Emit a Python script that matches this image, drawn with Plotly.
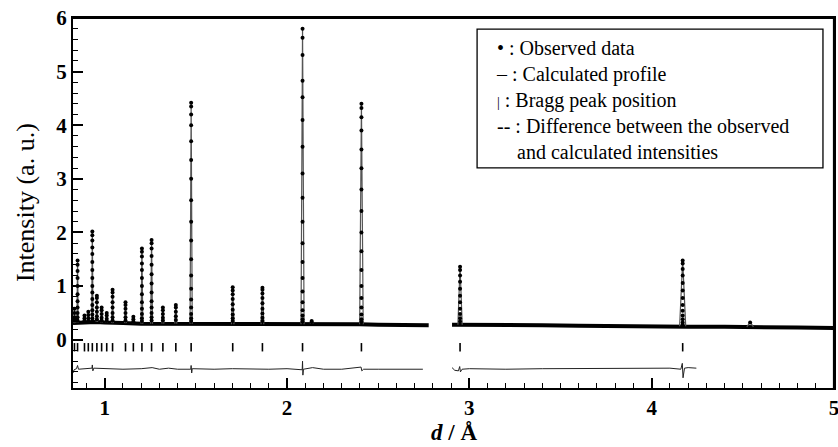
import plotly.graph_objects as go

# ---------------- data ----------------
# Bragg reflections (d-spacings, Å)
bragg_d = [0.834, 0.851, 0.889, 0.910, 0.932, 0.957, 0.983, 1.011, 1.043, 1.114,
           1.157, 1.204, 1.257, 1.319, 1.390, 1.474, 1.702, 1.865, 2.085, 2.408,
           2.949, 4.170]
bragg_level = -0.14

# peaks of the profile (d, top intensity, base intensity)
peak_d = [0.834, 0.851, 0.889, 0.910, 0.932, 0.957, 0.983, 1.011, 1.043, 1.114,
          1.157, 1.204, 1.257, 1.319, 1.390, 1.474, 1.702, 1.865, 2.085, 2.135,
          2.408, 2.949, 4.170, 4.540]
peak_h = [0.60, 1.48, 0.45, 0.52, 2.03, 0.82, 0.60, 0.50, 0.93, 0.70,
          0.43, 1.70, 1.86, 0.60, 0.65, 4.42, 0.98, 0.97, 5.82, 0.34,
          4.40, 1.36, 1.48, 0.33]
peak_base = [0.31, 0.32, 0.33, 0.33, 0.33, 0.33, 0.32, 0.32, 0.31, 0.31,
             0.31, 0.30, 0.30, 0.30, 0.30, 0.30, 0.29, 0.29, 0.29, 0.30,
             0.29, 0.28, 0.25, 0.24]

# observed points read along each peak (same order as peak_d)
peak_obs = [
    [0.58, 0.50, 0.42, 0.36],
    [1.48, 1.40, 1.28, 1.15, 1.00, 0.85, 0.72, 0.60, 0.50, 0.42, 0.36],
    [0.45, 0.40, 0.36],
    [0.52, 0.46, 0.40, 0.35],
    [2.02, 1.95, 1.85, 1.72, 1.60, 1.45, 1.30, 1.15, 1.00, 0.88, 0.76, 0.65, 0.55, 0.47, 0.40, 0.35],
    [0.82, 0.78, 0.70, 0.60, 0.52, 0.44, 0.38],
    [0.60, 0.55, 0.48, 0.41, 0.36],
    [0.50, 0.45, 0.39, 0.35],
    [0.93, 0.88, 0.80, 0.70, 0.60, 0.50, 0.42, 0.36],
    [0.70, 0.65, 0.58, 0.50, 0.42, 0.36],
    [0.43, 0.38, 0.34],
    [1.70, 1.64, 1.55, 1.42, 1.30, 1.15, 1.00, 0.85, 0.70, 0.58, 0.48, 0.40, 0.35],
    [1.86, 1.80, 1.70, 1.56, 1.40, 1.22, 1.05, 0.88, 0.72, 0.60, 0.50, 0.42, 0.36],
    [0.60, 0.55, 0.48, 0.41, 0.36],
    [0.65, 0.60, 0.52, 0.44, 0.37],
    [4.42, 4.35, 4.20, 4.00, 3.70, 3.35, 3.00, 2.60, 2.20, 1.85, 1.50, 1.20, 0.95, 0.75, 0.60, 0.48, 0.40, 0.35],
    [0.98, 0.92, 0.85, 0.76, 0.66, 0.56, 0.47, 0.40, 0.35],
    [0.97, 0.93, 0.86, 0.78, 0.68, 0.58, 0.49, 0.41, 0.35],
    [5.80, 5.63, 5.31, 4.83, 4.52, 4.10, 3.60, 3.10, 2.65, 2.20, 1.80, 1.45, 1.15, 0.90, 0.70, 0.55, 0.45, 0.38, 0.34],
    [0.35, 0.33],
    [4.40, 4.32, 4.15, 3.90, 3.55, 3.20, 2.80, 2.40, 2.00, 1.65, 1.30, 1.00, 0.78, 0.60, 0.47, 0.38, 0.33],
    [1.36, 1.30, 1.20, 1.08, 0.95, 0.82, 0.70, 0.58, 0.48, 0.40, 0.34],
    [1.48, 1.42, 1.32, 1.20, 1.06, 0.92, 0.78, 0.65, 0.54, 0.45, 0.38, 0.32, 0.28],
    [0.32],
]

# observed background (two measured ranges with a gap)
bg_left_d = [0.826, 0.86, 0.90, 0.95, 1.00, 1.05, 1.10, 1.20, 1.30, 1.40, 1.50, 1.60,
             1.70, 1.80, 1.90, 2.00, 2.10, 2.20, 2.30, 2.40, 2.50, 2.60, 2.70, 2.777]
bg_left_y = [0.31, 0.32, 0.33, 0.33, 0.32, 0.31, 0.31, 0.30, 0.30, 0.30, 0.30, 0.29,
             0.29, 0.29, 0.29, 0.29, 0.30, 0.29, 0.29, 0.29, 0.28, 0.28, 0.27, 0.27]
bg_right_d = [2.905, 3.00, 3.20, 3.40, 3.60, 3.80, 4.00, 4.20, 4.40, 4.60, 4.80, 5.00]
bg_right_y = [0.28, 0.28, 0.27, 0.27, 0.26, 0.25, 0.25, 0.24, 0.24, 0.24, 0.23, 0.22]

# difference curve (observed - calculated, offset)
diff_left_d = [0.826, 0.832, 0.845, 0.851, 0.856, 0.88, 0.93, 0.932, 0.935, 0.94, 1.00,
               1.10, 1.20, 1.26, 1.30, 1.35, 1.40, 1.472, 1.474, 1.477, 1.48, 1.60, 1.70,
               1.80, 1.90, 2.00, 2.083, 2.085, 2.087, 2.09, 2.14, 2.20, 2.30, 2.406,
               2.41, 2.42, 2.50, 2.60, 2.745]
diff_left_y = [-0.62, -0.56, -0.54, -0.48, -0.55, -0.54, -0.53, -0.47, -0.58, -0.53, -0.54,
               -0.55, -0.54, -0.52, -0.55, -0.53, -0.55, -0.55, -0.48, -0.62, -0.54, -0.55, -0.54,
               -0.55, -0.55, -0.54, -0.56, -0.40, -0.66, -0.55, -0.52, -0.55, -0.55, -0.51,
               -0.58, -0.55, -0.55, -0.55, -0.55]
diff_right_d = [2.905, 2.92, 2.94, 2.947, 2.951, 2.96, 3.00, 3.20, 3.40, 3.60, 3.80, 4.00,
                4.10, 4.16, 4.168, 4.172, 4.18, 4.20, 4.245]
diff_right_y = [-0.52, -0.57, -0.58, -0.50, -0.60, -0.55, -0.54, -0.55, -0.54, -0.54, -0.54, -0.54,
                -0.53, -0.55, -0.44, -0.71, -0.53, -0.52, -0.53]

x_ticks = [1, 2, 3, 4, 5]
y_ticks = [0, 1, 2, 3, 4, 5, 6]
x_range = [0.826, 5.0]
y_range = [-0.9, 6.0]

# ---------------- build traces ----------------
calc_x, calc_y = [], []
for d, h, b in zip(peak_d, peak_h, peak_base):
    hw = 0.004 * d
    calc_x += [d - hw, d, d + hw, None]
    calc_y += [b, h, b, None]

obs_x, obs_y = [], []
for d, ys in zip(peak_d, peak_obs):
    for v in ys:
        obs_x.append(d)
        obs_y.append(v)

fig = go.Figure()

# observed background band
fig.add_trace(go.Scatter(x=bg_left_d + [None] + bg_right_d,
                         y=bg_left_y + [None] + bg_right_y,
                         mode="lines", line=dict(color="black", width=4),
                         connectgaps=False, hoverinfo="skip"))
# calculated profile
fig.add_trace(go.Scatter(x=calc_x, y=calc_y, mode="lines",
                         line=dict(color="#555555", width=1.2), connectgaps=False))
# observed points
fig.add_trace(go.Scatter(x=obs_x, y=obs_y, mode="markers",
                         marker=dict(color="black", size=4, symbol="circle")))
# Bragg positions
fig.add_trace(go.Scatter(x=bragg_d, y=[bragg_level] * len(bragg_d), mode="markers",
                         marker=dict(symbol="line-ns", size=6,
                                     line=dict(color="black", width=1.6))))
# difference curve
fig.add_trace(go.Scatter(x=diff_left_d + [None] + diff_right_d,
                         y=diff_left_y + [None] + diff_right_y,
                         mode="lines", line=dict(color="#222222", width=1),
                         connectgaps=False))
# top and right edges of the plot frame, along the axis range limits
fig.add_trace(go.Scatter(x=[x_range[0], x_range[1], x_range[1]],
                         y=[y_range[1], y_range[1], y_range[0]],
                         mode="lines", line=dict(color="black", width=2.2),
                         cliponaxis=False, hoverinfo="skip"))

serif = "Liberation Serif, Times New Roman, serif"
fig.update_layout(
    width=838, height=447, autosize=False,
    margin=dict(l=73, r=4, t=18, b=59),
    paper_bgcolor="white", plot_bgcolor="white",
    showlegend=False,
    font=dict(family=serif, color="black"),
    xaxis=dict(range=x_range, showgrid=False, zeroline=False, automargin=False,
               showline=True, linecolor="black", linewidth=2, mirror=True,
               ticks="inside", ticklen=10, tickwidth=1.6, tickcolor="black",
               tickvals=x_ticks, ticktext=[f"<b>{v}</b>" for v in x_ticks],
               tickfont=dict(family=serif, size=21, color="black"),
               ticklabeloverflow="allow",
               minor=dict(dtick=0.1, ticks="inside", ticklen=5, tickwidth=1.4,
                          tickcolor="black", showgrid=False)),
    yaxis=dict(range=y_range, showgrid=False, zeroline=False, automargin=False,
               showline=True, linecolor="black", linewidth=2, mirror=True,
               ticks="inside", ticklen=10, tickwidth=1.6, tickcolor="black",
               tickvals=y_ticks, ticktext=[f"<b>{v}</b>" for v in y_ticks],
               tickfont=dict(family=serif, size=21, color="black"),
               ticklabeloverflow="allow",
               minor=dict(dtick=0.2, ticks="inside", ticklen=5, tickwidth=1.4,
                          tickcolor="black", showgrid=False)),
)

# axis titles
fig.add_annotation(xref="paper", yref="paper", x=-0.063, y=0.5,
                   text="Intensity (a. u.)", textangle=-90, showarrow=False,
                   xanchor="center", yanchor="middle",
                   font=dict(family=serif, size=26, color="black"))
fig.add_annotation(xref="paper", yref="paper", x=0.5, y=-0.119,
                   text="<b><i>d</i> / Å</b>", showarrow=False,
                   xanchor="center", yanchor="middle",
                   font=dict(family=serif, size=23, color="black"))

# legend box
fig.add_shape(type="rect", xref="paper", yref="paper",
              x0=0.531, x1=0.9855, y0=0.595, y1=0.970,
              line=dict(color="black", width=1.3), fillcolor="white", layer="above")
nb = "\u00a0"
legend_text = ("• : Observed data<br>"
               "– : Calculated profile<br>"
               "<span style='font-size:14px'>|</span> : Bragg peak position<br>"
               "-- : Difference between the observed<br>"
               + nb * 4 + "and calculated intensities")
fig.add_annotation(xref="paper", yref="paper", x=0.553, y=0.955,
                   text=legend_text, showarrow=False, align="left",
                   xanchor="left", yanchor="top",
                   font=dict(family=serif, size=20, color="black"))

fig.write_html("out.html", config={"displayModeBar": False})

# remove the browser's default page margin so the figure sits at (0, 0)
with open("out.html", "r", encoding="utf-8") as f:
    html = f.read()
html = html.replace("<head>", "<head><style>html,body{margin:0;padding:0;overflow:hidden;}</style>", 1)
with open("out.html", "w", encoding="utf-8") as f:
    f.write(html)
